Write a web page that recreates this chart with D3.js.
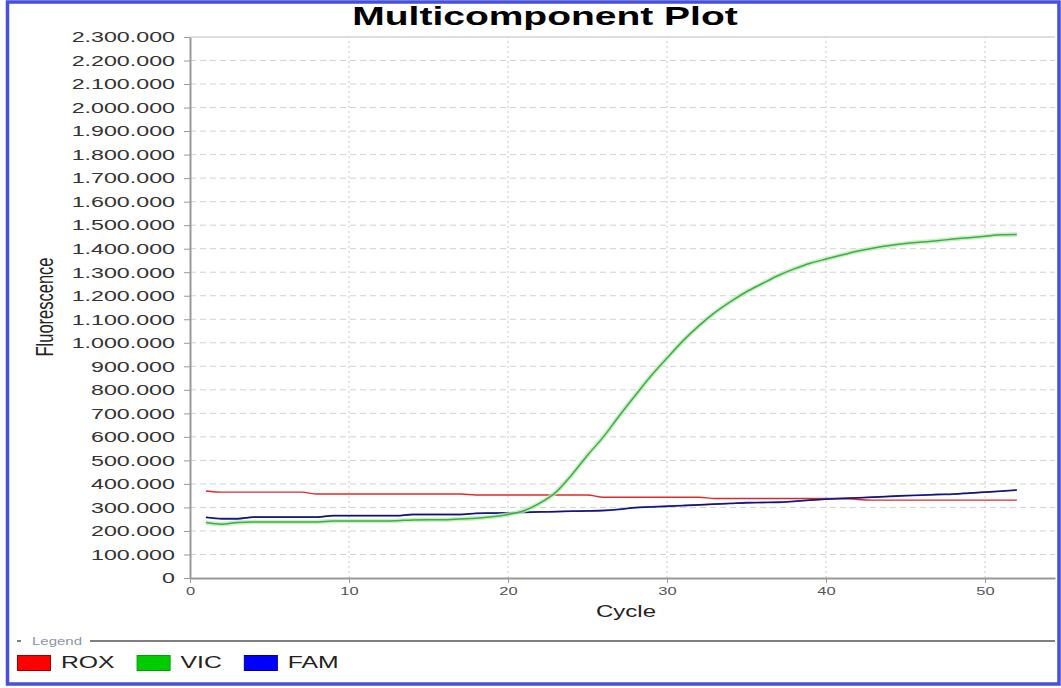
<!DOCTYPE html>
<html>
<head>
<meta charset="utf-8">
<script src="https://cdn.jsdelivr.net/npm/d3@7"></script>
<style>
  body { margin: 0; background: #fff; }
  svg text { font-family: "Liberation Sans", Arial, sans-serif; }
</style>
</head>
<body>
<script>
// cycles 1..52
const cycles = d3.range(1, 53);

const rox = [
  370000, 365000, 365000, 365000, 365000, 365000, 365000, 357000, 357000, 357000,
  357000, 357000, 357000, 357000, 357000, 357000, 357000, 353000, 353000, 353000,
  353000, 353000, 353000, 353000, 353000, 343000, 343000, 343000, 343000, 343000,
  343000, 343000, 338000, 338000, 338000, 338000, 338000, 338000, 338000, 338000,
  338000, 334000, 331000, 331000, 331000, 331000, 331000, 331000, 331000, 331000,
  331000, 331000
];

const vic = [
  236000, 229000, 236000, 238000, 238000, 238000, 238000, 238000, 242000, 242000,
  242000, 242000, 243000, 247000, 248000, 248000, 251000, 254000, 260000, 270000,
  286000, 318000, 364000, 438000, 522000, 600000, 690000, 776000, 860000, 935000,
  1008000, 1072000, 1128000, 1175000, 1217000, 1252000, 1286000, 1314000, 1338000, 1356000,
  1373000, 1390000, 1403000, 1414000, 1422000, 1428000, 1434000, 1441000, 1447000, 1453000,
  1459000, 1460000
];

const fam = [
  258000, 252000, 252000, 259000, 259000, 259000, 259000, 259000, 265000, 265000,
  265000, 265000, 265000, 270000, 270000, 270000, 270000, 275000, 276000, 277000,
  279000, 281000, 282000, 284000, 285000, 287000, 292000, 299000, 302000, 305000,
  308000, 311000, 314000, 317000, 320000, 321000, 322000, 326000, 331000, 335000,
  338000, 341000, 344000, 347000, 350000, 352000, 355000, 357000, 361000, 365000,
  369000, 374000
];

const yTicks = d3.range(0, 2300001, 100000);
const xTicks = [0, 10, 20, 30, 40, 50];
const legendNames = ['ROX', 'VIC', 'FAM'];
const legendFill = ['#ff0000', '#00cc00', '#0000ff'];
const legendEdge = ['#a00000', '#00a000', '#000090'];

const W = 1061, H = 688;
const SX = 1.5; // the reference is stretched horizontally, text too

const x = d3.scaleLinear().domain([0, 54.4]).range([190, 1055]);
const y = d3.scaleLinear().domain([0, 2300000]).range([578, 37]);

const svg = d3.select('body').append('svg')
  .attr('width', W)
  .attr('height', H);

svg.append('rect')
  .attr('width', W).attr('height', H)
  .attr('fill', '#fff');

// outer frame
svg.append('rect')
  .attr('x', 7.5).attr('y', 2)
  .attr('width', 1051.5).attr('height', 682)
  .attr('fill', 'none')
  .attr('stroke', '#4650d8')
  .attr('stroke-width', 3.5);

function stretchText(g, px, py, txt) {
  return g.append('text')
    .attr('transform', `translate(${px},${py}) scale(${SX},1)`)
    .text(txt);
}

// title
stretchText(svg, 545, 25, 'Multicomponent Plot')
  .attr('text-anchor', 'middle')
  .attr('font-size', 26)
  .attr('font-weight', 'bold')
  .attr('fill', '#000');

// grid
svg.append('g')
  .selectAll('line')
  .data(yTicks.filter((d) => d > 0 && d < 2300000))
  .join('line')
  .attr('x1', x(0)).attr('x2', x.range()[1])
  .attr('y1', (d) => y(d)).attr('y2', (d) => y(d))
  .attr('stroke', '#d2d2d2')
  .attr('stroke-dasharray', '6,4');

svg.append('g')
  .selectAll('line')
  .data(xTicks.filter((d) => d > 0))
  .join('line')
  .attr('x1', (d) => x(d)).attr('x2', (d) => x(d))
  .attr('y1', y(0)).attr('y2', y(2300000))
  .attr('stroke', '#cccccc')
  .attr('stroke-dasharray', '2,3');

svg.append('line')
  .attr('x1', x(0)).attr('x2', x.range()[1])
  .attr('y1', y(2300000)).attr('y2', y(2300000))
  .attr('stroke', '#bdbdbd')
  .attr('stroke-width', 1.2);

// axes
const fmt = (d) => d3.format(',')(d).replace(/,/g, '.');

const yAxis = svg.append('g')
  .attr('transform', `translate(${x(0)},0)`)
  .call(d3.axisLeft(y).tickValues(yTicks).tickFormat(fmt).tickSize(6).tickSizeOuter(0).tickPadding(3.7));

yAxis.select('.domain').attr('stroke', '#999').attr('stroke-width', 2);
yAxis.selectAll('.tick line').attr('stroke', '#999');
yAxis.selectAll('.tick text')
  .attr('font-size', 15)
  .attr('fill', '#333')
  .attr('transform', 'scale(1.55,1)');

const xAxis = svg.append('g')
  .attr('transform', `translate(0,${y(0)})`)
  .call(d3.axisBottom(x).tickValues(xTicks).tickSize(5).tickSizeOuter(0).tickPadding(4));

xAxis.select('.domain').attr('stroke', '#999').attr('stroke-width', 2);
xAxis.selectAll('.tick line').attr('stroke', '#999');
xAxis.selectAll('.tick text')
  .attr('font-size', 11)
  .attr('fill', '#555')
  .attr('transform', `scale(${SX},1)`);

// axis titles
svg.append('text')
  .attr('transform', `translate(53,307) scale(${SX},1) rotate(-90)`)
  .attr('text-anchor', 'middle')
  .attr('font-size', 16.5)
  .attr('fill', '#222')
  .text('Fluorescence');

stretchText(svg, 626, 617, 'Cycle')
  .attr('text-anchor', 'middle')
  .attr('font-size', 16)
  .attr('fill', '#222');

// series
const line = d3.line()
  .x((d, i) => x(cycles[i]))
  .y((d) => y(d))
  .curve(d3.curveMonotoneX);

const lines = svg.append('g').attr('fill', 'none');

lines.append('path')
  .attr('d', line(rox))
  .attr('stroke', '#e02a2a')
  .attr('stroke-width', 1.4);

lines.append('path')
  .attr('d', line(fam))
  .attr('stroke', '#2a2aff')
  .attr('stroke-width', 1.8);
lines.append('path')
  .attr('d', line(fam))
  .attr('stroke', '#151515')
  .attr('stroke-width', 1.1)
  .attr('opacity', 0.85);

lines.append('path')
  .attr('d', line(vic))
  .attr('stroke', '#bfe9bf')
  .attr('stroke-width', 4.5)
  .attr('opacity', 0.8);
lines.append('path')
  .attr('d', line(vic))
  .attr('stroke', '#3db03d')
  .attr('stroke-width', 1.5);

// legend
const lg = svg.append('g');
lg.append('line')
  .attr('x1', 17).attr('x2', 21)
  .attr('y1', 641).attr('y2', 641)
  .attr('stroke', '#555').attr('stroke-width', 1.5);
stretchText(lg, 32, 644.5, 'Legend')
  .attr('font-size', 10)
  .attr('fill', '#8a96aa');
lg.append('line')
  .attr('x1', 90).attr('x2', 1055)
  .attr('y1', 641).attr('y2', 641)
  .attr('stroke', '#555').attr('stroke-width', 1.5);

let lx = 17;
legendNames.forEach((name, i) => {
  lg.append('rect')
    .attr('x', lx + 0.5).attr('y', 655.5)
    .attr('width', 33).attr('height', 15)
    .attr('fill', legendFill[i])
    .attr('stroke', legendEdge[i])
    .attr('stroke-width', 1);
  const t = stretchText(lg, lx + 44, 668, name)
    .attr('font-size', 16.5)
    .attr('fill', '#222');
  const w = t.node().getComputedTextLength() * SX;
  lx = lx + 44 + w + 22;
});
</script>
</body>
</html>
